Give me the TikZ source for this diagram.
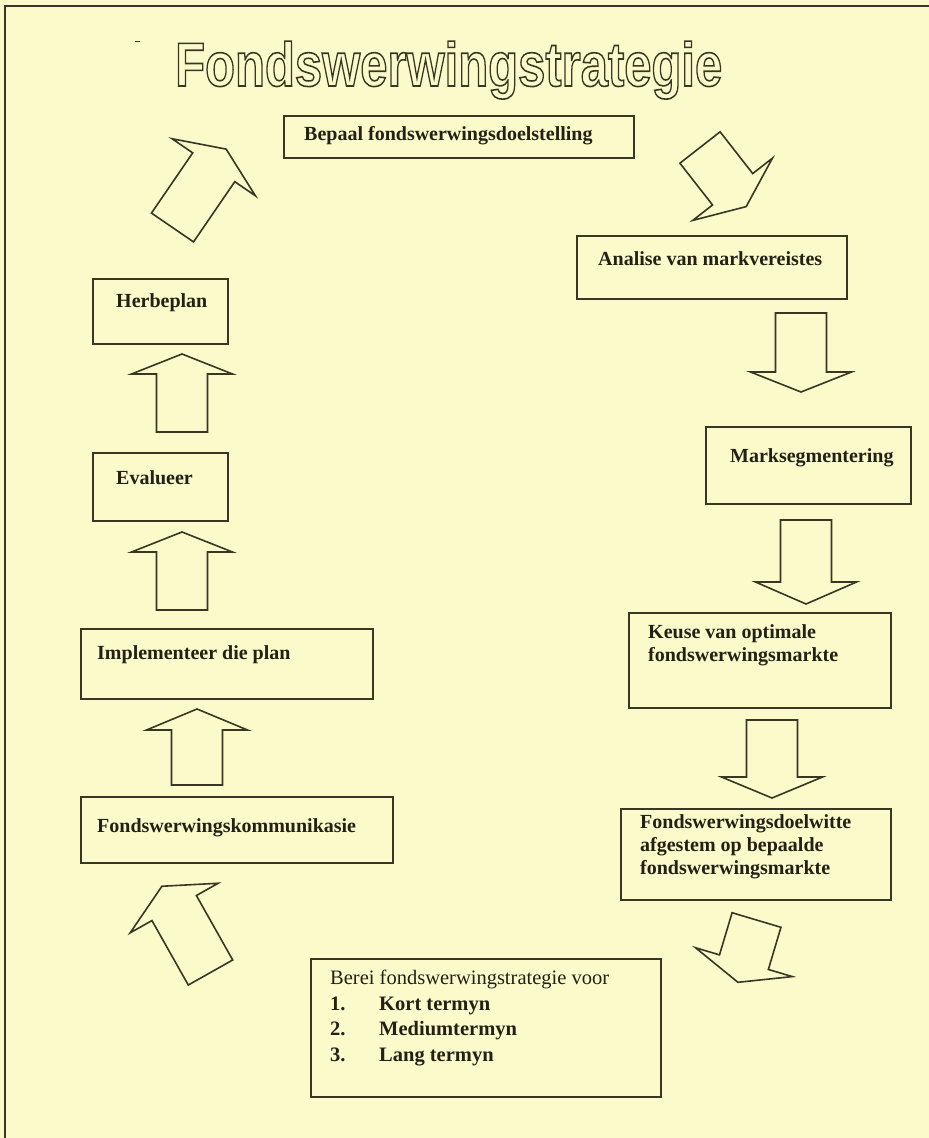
\documentclass[tikz,border=0pt]{standalone}
\usepackage{fontspec}
\usepackage{graphicx}
\setmainfont{Liberation Serif}
\newfontfamily\titlefont{Liberation Sans}
\usetikzlibrary{calc}

\definecolor{paper}{RGB}{250,250,202}
\definecolor{ink}{RGB}{58,54,36}
\definecolor{txt}{RGB}{35,32,22}

\tikzset{
  panel/.style={draw=ink, line width=1.6pt, anchor=north west, inner sep=0pt},
  caption/.style={anchor=west, inner sep=0pt, text=txt,
    font=\fontsize{20}{24}\selectfont\bfseries},
  captionblock/.style={anchor=north west, inner sep=0pt, text=txt, align=left,
    font=\fontsize{20}{23.3}\selectfont\bfseries},
  blockline/.style={draw=ink, line width=1.6pt, line join=miter},
  titletext/.style={anchor=base west, inner sep=0pt, text=ink,
    font=\fontsize{62}{70}\selectfont\titlefont\bfseries},
}

% block arrow: base centre (x,y), rotation, body length, head length
\newcommand{\blockarrow}[5]{%
  \begin{scope}[shift={(#1,#2)}, rotate=#3]
    \draw[blockline] (0,-25.5) -- (#4,-25.5) -- (#4,-50.5) -- ({#4+#5},0)
      -- (#4,50.5) -- (#4,25.5) -- (0,25.5) -- cycle;
  \end{scope}}

% hollow (stroked) lettering for the heading
\newcommand{\outlinetext}[1]{%
  \special{pdf:literal direct 1 Tr 1.6 w}#1\special{pdf:literal direct 0 Tr}}

\begin{document}
\begin{tikzpicture}[x=1pt, y=-1pt]
  \fill[paper] (0,0) rectangle (929,1138);
  \useasboundingbox (0,0) rectangle (929,1138);

  % frame
  \draw[ink, line width=1.8pt] (5,1138) -- (5,6) -- (929,6);
  \draw[ink, line width=1pt] (135,41) -- (140,41);

  % outlined title
  \node[titletext] (title) at (175,86)
    {\scalebox{0.79}[1]{\outlinetext{Fondswerwingstrategie}}};

  % top
  \node[panel, minimum width=350pt, minimum height=42pt] (bepaal) at (283,115) {};
  \node[caption] (bepaal-t) at (304,136) {Bepaal fondswerwingsdoelstelling};

  % right column
  \node[panel, minimum width=270pt, minimum height=63pt] (analise) at (576,235) {};
  \node[caption] (analise-t) at (598,259) {Analise van markvereistes};

  \node[panel, minimum width=205pt, minimum height=77pt] (segment) at (705,426) {};
  \node[caption] (segment-t) at (730,458) {Marksegmentering};

  \node[panel, minimum width=262pt, minimum height=95pt] (keuse) at (628,612) {};
  \node[captionblock] (keuse-t) at (648,624) {Keuse van optimale\\fondswerwingsmarkte};

  \node[panel, minimum width=270pt, minimum height=91pt] (doelwit) at (620,808) {};
  \node[captionblock] (doelwit-t) at (640,814) {Fondswerwingsdoelwitte\\afgestem op bepaalde\\fondswerwingsmarkte};

  % bottom
  \node[panel, minimum width=350pt, minimum height=138pt] (berei) at (310,958) {};
  \node[anchor=north west, inner sep=0pt, text=txt, align=left,
        font=\fontsize{20.5}{25.5}\selectfont] (berei-t) at (330,970)
    {Berei fondswerwingstrategie voor\\
     \textbf{\makebox[49pt][l]{1.}Kort termyn}\\
     \textbf{\makebox[49pt][l]{2.}Mediumtermyn}\\
     \textbf{\makebox[49pt][l]{3.}Lang termyn}};

  % left column
  \node[panel, minimum width=312pt, minimum height=66pt] (kommunikasie) at (80,796) {};
  \node[caption] (kommunikasie-t) at (97,828) {Fondswerwingskommunikasie};

  \node[panel, minimum width=292pt, minimum height=70pt] (implementeer) at (80,628) {};
  \node[caption] (implementeer-t) at (97,655) {Implementeer die plan};

  \node[panel, minimum width=135pt, minimum height=68pt] (evalueer) at (92,452) {};
  \node[caption] (evalueer-t) at (116,478) {Evalueer};

  \node[panel, minimum width=135pt, minimum height=65pt] (herbeplan) at (92,278) {};
  \node[caption] (herbeplan-t) at (116,303) {Herbeplan};

  % block arrows round the cycle
  \blockarrow{700}{147.5}{-52}{53}{22}      % bepaal -> analise
  \blockarrow{801}{313}{-90}{59}{20}        % analise -> segment
  \blockarrow{806}{520}{-90}{62}{22}        % segment -> keuse
  \blockarrow{772}{720}{-90}{57}{21}        % keuse -> doelwit
  \blockarrow{756.5}{920}{-106.6}{44}{21}   % doelwit -> berei
  \blockarrow{210.5}{972.5}{119.4}{74}{25}  % berei -> kommunikasie
  \blockarrow{197}{785}{90}{55}{21}         % kommunikasie -> implementeer
  \blockarrow{182}{610}{90}{58}{20}         % implementeer -> evalueer
  \blockarrow{182}{432}{90}{58}{20}         % evalueer -> herbeplan
  \blockarrow{172.5}{227.5}{55.6}{73}{22}   % herbeplan -> bepaal
\end{tikzpicture}
\end{document}
